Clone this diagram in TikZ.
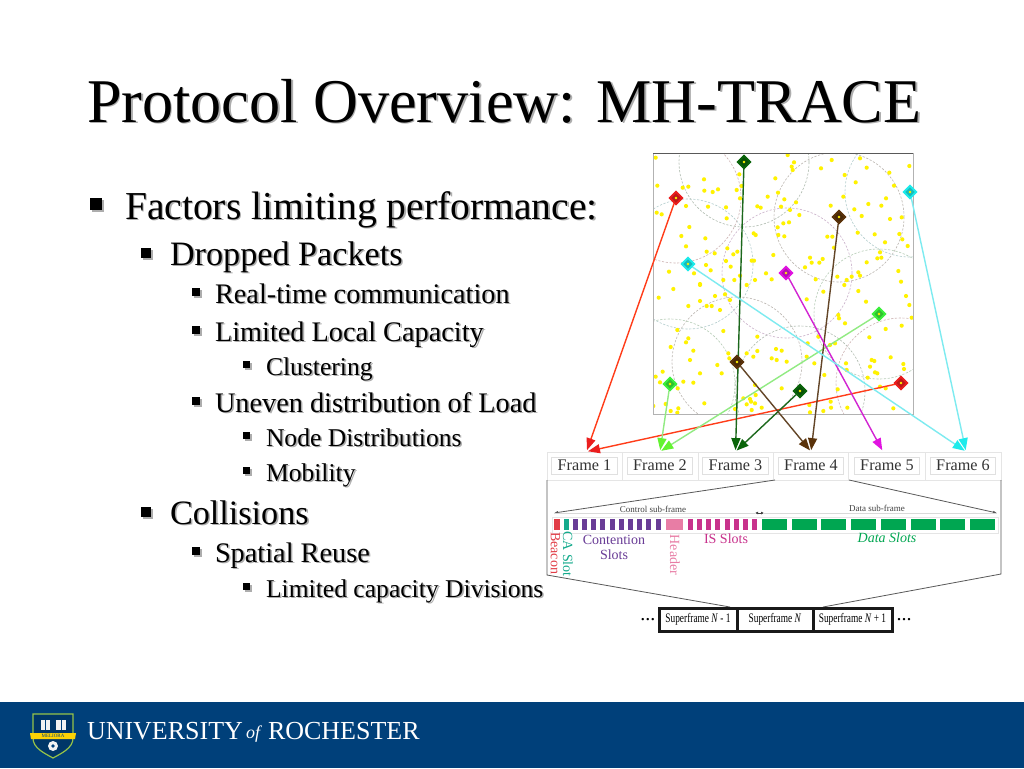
\documentclass[tikz,border=0pt]{standalone}
\usepackage{fontspec}
\setmainfont{Liberation Serif}
\usetikzlibrary{arrows.meta, calc, positioning, shapes.geometric}
\definecolor{rocblue}{RGB}{0,64,122}
\definecolor{headred}{RGB}{235,30,30}
\definecolor{headgreen}{RGB}{10,100,10}
\definecolor{headlime}{RGB}{60,240,60}
\definecolor{headcyan}{RGB}{30,235,235}
\definecolor{headpink}{RGB}{225,20,225}
\definecolor{headbrown}{RGB}{90,50,10}
\definecolor{linelime}{RGB}{145,235,130}
\definecolor{linecyan}{RGB}{125,235,240}
\definecolor{slotred}{RGB}{225,60,70}
\definecolor{slotteal}{RGB}{20,170,140}
\definecolor{slotpurple}{RGB}{105,60,150}
\definecolor{slotpink}{RGB}{232,125,165}
\definecolor{slotmag}{RGB}{200,50,140}
\definecolor{slotgreen}{RGB}{0,166,81}
\tikzset{
  base text/.style={anchor=base west, inner sep=0pt, outer sep=0pt},
  titletext/.style={base text, font=\fontsize{62.2}{62}\selectfont},
  lvlone/.style={base text, font=\fontsize{39.6}{40}\selectfont},
  lvltwo/.style={base text, font=\fontsize{34.2}{34}\selectfont},
  lvlthree/.style={base text, font=\fontsize{28.3}{28}\selectfont},
  lvlfour/.style={base text, font=\fontsize{25.6}{26}\selectfont},
  head/.style={diamond, draw=#1, fill=#1!80!black, line width=1.7pt, minimum size=13pt, inner sep=0pt},
  framebox/.style={draw=black!12, line width=0.8pt, minimum width=65.5pt, minimum height=17pt, inner sep=0pt,
    font=\fontsize{16.2}{16}\selectfont, text=black!80},
  frameline/.style={line width=1.4pt, shorten >=1.5pt, -{Triangle[length=12pt,width=9pt,color=#1,fill=#1]}},
  slotlabel/.style={inner sep=0pt, font=\fontsize{14}{15}\selectfont, align=center},
  tinylabel/.style={inner sep=1pt, fill=white, font=\fontsize{9}{9}\selectfont, text=black!75},
  superbox/.style={draw=black!90, line width=3pt, minimum height=23pt, inner sep=0pt,
    font=\fontsize{13}{13}\selectfont},
  zoomline/.style={draw=black!65, line width=0.8pt},
}
\newcommand{\shadownode}[4]{%
  \node[#1, text=black!32] at ($(#3)+(1.6,1.6)$) {#4};
  \node[#1] (#2) at (#3) {#4};}
\begin{document}
\begin{tikzpicture}[x=1pt,y=-1pt]
    \useasboundingbox (0,0) rectangle (1024,768);
    \fill[white] (0,0) rectangle (1024,768);

    % Title
    \shadownode{titletext}{title}{87,122}{Protocol Overview: MH-TRACE}

    % Bullets
    \foreach \bx/\by/\bs in {90/198/12, 141/248/10, 192/288/8, 192/326/8, 243/361/7, 192/397/8, 243/432/7, 243/467/7, 141/507/10, 192/547/8, 243/583/7} {
        \fill[black!32] (\bx+1.5,\by+1.5) rectangle ++(\bs,\bs);
        \fill[black] (\bx,\by) rectangle ++(\bs,\bs);
    }

    % Bullet text
    \shadownode{lvlone}{factors}{125,219}{Factors limiting performance:}
    \shadownode{lvltwo}{dropped}{170,265}{Dropped Packets}
    \shadownode{lvlthree}{realtime}{215,303}{Real-time communication}
    \shadownode{lvlthree}{capacity}{215,341}{Limited Local Capacity}
    \shadownode{lvlfour}{clustering}{266,375}{Clustering}
    \shadownode{lvlthree}{uneven}{215,412}{Uneven distribution of Load}
    \shadownode{lvlfour}{nodedist}{266,446}{Node Distributions}
    \shadownode{lvlfour}{mobility}{266,481}{Mobility}
    \shadownode{lvltwo}{collisions}{170,524}{Collisions}
    \shadownode{lvlthree}{spatial}{215,562}{Spatial Reuse}
    \shadownode{lvlfour}{divisions}{266,597}{Limited capacity Divisions}

    % Field of nodes
    \begin{scope}
        \clip (653,153) rectangle (913,414);
        \foreach \cx/\cy/\col in {744/162/headgreen, 839/217/headbrown, 787/273/headpink, 688/264/headcyan, 910/192/headcyan, 676/198/headred, 737/362/headbrown, 800/391/headgreen, 901/383/headred, 879/314/headlime, 670/384/headlime}
            \draw[\col!25!gray!50, line width=0.6pt, dash pattern=on 2.2pt off 1.6pt] (\cx,\cy) circle (65);
        \foreach \dx/\dy in {47/38,52/122,50/203,65/208,128/128,145/125,192/103,193/137,218/141,234/133,290/135,300/160,305/123,298/88,406/100,383/155,352/184,362/188,423/185,433/163,414/143,468/172,450/195,478/210,413/247,430/235,447/232,415/270,433/274,341/265,347/270,443/30,462/52,455/65,458/75,543/70,575/45,614/90,647/112,660/40,680/68,748/83,762/122,808/63,610/155,572/182,643/193,685/177,724/182,738/160,665/213,750/222,785/217,653/263,704/268,778/267,787/283,803/303,735/292,720/322,712/340,724/338,680/352,562/275,577/275,582/308,510/338,548/342,515/353,538/353,495/367,400/330,335/347,342/347,292/320,280/328,262/310,258/348,272/365,200/320,224/325,148/246,124/273,196/280,138/304,138/183,204/185,258/187,260/220,198/360,212/376,162/385,87/380,180/417,100/432,250/405,283/405,300/392,345/405,378/385,395/403,320/420,527/403,592/395,620/405,635/395,655/382,660/392,775/378,783/410,613/420}
            \fill[yellow] (640+\dx/3,145+\dy/3) circle (2.1);
        \foreach \dx/\dy in {180/0,56/38,145/63,180/48,200/63,215/63,225/33,240/75,255/28,270/45,250/138,112/135,145/160,138/172,92/186,160/197,150/225,232/240,180/265,245/265,68/260,47/275,60/292,130/290,160/293,113/310,40/363,77/357,92/378,115/370,112/383,193/355,265/205,268/220,320/205,352/198,340/215,352/155,408/192,425/197,395/220,410/225,440/230,500/215,523/235,503/175,535/155,550/20,500/43,595/90,597/100,615/115,655/18,678/50,798/33,808/60,815/98,785/122,737/132,688/157,585/175,570/180,618/235,620/255,695/225,703/228,690/245,752/217,790/237,792/252,705/262,712/265,683/278,553/270,425/310,345/300,347/330,310/340,330/342,333/350,345/355,320/358,365/368,335/375,285/372,508/360,510/382,550/378,572/350,573/368,593/313,622/368,760/370,720/305,737/310}
            \fill[yellow] (640+\dx/3,285+\dy/3) circle (2.1);
    \end{scope}
    \draw[black!30, line width=1pt] (653,153) rectangle (913,414);
    \draw[black!65, line width=1pt] (653,153) -- (913,153);

    % Frames
    \draw[black!10, line width=0.8pt] (547,452) rectangle (1001,480);
    \foreach \fx/\fn in {622/1, 698/2, 773/3, 848/4, 925/5}
        \draw[black!10, line width=0.8pt] (\fx,452) -- (\fx,480);
    \foreach \fx/\fn in {584.5/1, 660/2, 735.5/3, 811/4, 887/5, 963/6}
        \node[framebox] (frame\fn) at (\fx,465.5) {Frame \fn};

    % Cluster heads
    \foreach \hn/\hx/\hy/\col in {gA/744/162/headgreen, rA/676/198/headred, cA/910/192/headcyan, bA/839/217/headbrown, cB/688/264/headcyan, pA/786/273/headpink, lA/879/314/headlime, bB/737/362/headbrown, lB/670/384/headlime, gB/800/391/headgreen, rB/901/383/headred}
        \node[head=\col] (\hn) at (\hx,\hy) {};

    % Head to frame links
    \draw[frameline=headred, red!70!orange!90!white] (rA) -- ([xshift=2pt,yshift=5pt]frame1.north);
    \draw[frameline=headred, red!70!orange!90!white] (rB) -- ([xshift=2pt,yshift=5pt]frame1.north);
    \draw[frameline=headlime!80!yellow, linelime] (lA) -- ([yshift=5pt]frame2.north);
    \draw[frameline=headlime!80!yellow, linelime] (lB) -- ([yshift=5pt]frame2.north);
    \draw[frameline=headgreen, headgreen!85!gray] (gA) -- ([yshift=5pt]frame3.north);
    \draw[frameline=headgreen, headgreen!85!gray] (gB) -- ([yshift=5pt]frame3.north);
    \draw[frameline=headbrown, headbrown!75!gray] (bA) -- ([yshift=5pt]frame4.north);
    \draw[frameline=headbrown, headbrown!75!gray] (bB) -- ([yshift=5pt]frame4.north);
    \draw[frameline=headpink, headpink!85!gray] (pA) -- ([xshift=-4pt,yshift=5pt]frame5.north);
    \draw[frameline=headcyan, linecyan] (cA) -- ([xshift=3pt,yshift=5pt]frame6.north);
    \draw[frameline=headcyan, linecyan] (cB) -- ([xshift=3pt,yshift=5pt]frame6.north);

    % Heads again on top of their links
    \foreach \hn/\col in {gA/headgreen, rA/headred, cA/headcyan, bA/headbrown, cB/headcyan, pA/headpink, lA/headlime, bB/headbrown, lB/headlime, gB/headgreen, rB/headred} {
        \node[head=\col] at (\hn) {};
        \fill[yellow] (\hn) circle (1.4);
    }

    % Sub-frame expansion
    \coordinate (zoomtl) at (547,480);
    \coordinate (zoombl) at (547,575);
    \coordinate (zoomtr) at (1001,480);
    \coordinate (zoombr) at (1001,574);
    \coordinate (ctlleft) at (554,513);
    \coordinate (ctlright) at (755,513);
    \coordinate (datleft) at (764,513);
    \coordinate (datright) at (997,513);
    \draw[zoomline] (zoomtl) -- (zoombl) -- (730,607);
    \draw[zoomline] (zoomtr) -- (zoombr) -- (823,607);
    \draw[zoomline, -{Latex[length=4pt,width=3pt]}] (775,480) -- (ctlleft);
    \draw[zoomline, -{Latex[length=4pt,width=3pt]}] (849,480) -- (datright);
    \draw[black!15, line width=0.6pt] (ctlleft) -- (ctlright) (datleft) -- (datright);
    \draw[black!75, line width=0.6pt, {Latex[length=3pt,width=3pt]}-{Latex[length=3pt,width=3pt]}] (ctlright) -- (datleft);
    \node[tinylabel] (ctllabel) at (653,509) {Control sub-frame};
    \node[tinylabel] (datlabel) at (877,508) {Data sub-frame};

    % Slots
    \draw[black!10, line width=0.8pt] (552,517) rectangle (998,533);
    \fill[slotred] (554,519) rectangle (560,530);
    \fill[slotteal] (564,519) rectangle (569,530);
    \foreach \s in {0,...,9}
        \fill[slotpurple] (572.7+9.2*\s,519) rectangle ++(5,11);
    \fill[slotpink] (666,519) rectangle (683,530);
    \foreach \s in {0,...,7}
        \fill[slotmag] (687.7+9.2*\s,519) rectangle ++(5,11);
    \foreach \s in {0,...,7}
        \fill[slotgreen] (762+29.7*\s,519) rectangle ++(25,11);

    % Slot labels
    \node[slotlabel, rotate=-90, text=slotred] (beacon) at (555.5,553) {Beacon};
    \node[slotlabel, rotate=-90, text=slotteal] (caslot) at (568,554) {CA Slot};
    \node[slotlabel, text=slotpurple] (contention) at (614,547) {Contention\\Slots};
    \node[slotlabel, rotate=-90, text=slotpink] (header) at (675,555) {Header};
    \node[slotlabel, text=slotmag] (isslots) at (726,539) {IS Slots};
    \node[slotlabel, text=slotgreen, font=\fontsize{14}{15}\selectfont\itshape] (dataslots) at (887,538) {Data Slots};

    % Superframes
    \node[superbox, minimum width=78pt] (superA) at (698,619.5) {\scalebox{0.72}[1]{Superframe \textit{N} - 1}};
    \node[superbox, minimum width=76pt, right=-3pt of superA] (superB) {\scalebox{0.72}[1]{Superframe \textit{N}}};
    \node[superbox, minimum width=79pt, right=-3pt of superB] (superC) {\scalebox{0.72}[1]{Superframe \textit{N} + 1}};
    \node[inner sep=0pt, left=2pt of superA, font=\fontsize{20}{20}\selectfont] (dotsA) {...};
    \node[inner sep=0pt, right=3pt of superC, font=\fontsize{20}{20}\selectfont] (dotsB) {...};

    % Footer
    \fill[rocblue] (0,702) rectangle (1024,768);
    \draw[yellow!55!green!75!gray, line width=1.2pt, fill=rocblue!85!black] (33,714) -- (73,714) -- (73,738) .. controls (73,748) and (62,753) .. (53,758) .. controls (44,753) and (33,748) .. (33,738) -- cycle;
    \fill[white!90!gray] (41,720) rectangle (50,730);
    \fill[white!90!gray] (56,720) rectangle (66,730);
    \fill[rocblue] (45,720) rectangle (46,730);
    \fill[rocblue] (61,720) rectangle (62,730);
    \fill[yellow!70!orange] (30,733) -- (76,733) -- (75,739) -- (31,739) -- cycle;
    \node[inner sep=0pt, font=\fontsize{5}{5}\selectfont, text=rocblue] (motto) at (53,736) {MELIORA};
    \fill[white!90!gray] (53,746) circle (5);
    \fill[rocblue] (53,746) circle (1.8);
    \node[base text, text=white, font=\fontsize{26}{26}\selectfont] (univ) at (87,739) {UNIVERSITY};
    \node[base text, text=white, font=\fontsize{18}{18}\selectfont\itshape] (uof) at (246,738) {of};
    \node[base text, text=white, font=\fontsize{26}{26}\selectfont] (roch) at (268,739) {ROCHESTER};
\end{tikzpicture}
\end{document}
